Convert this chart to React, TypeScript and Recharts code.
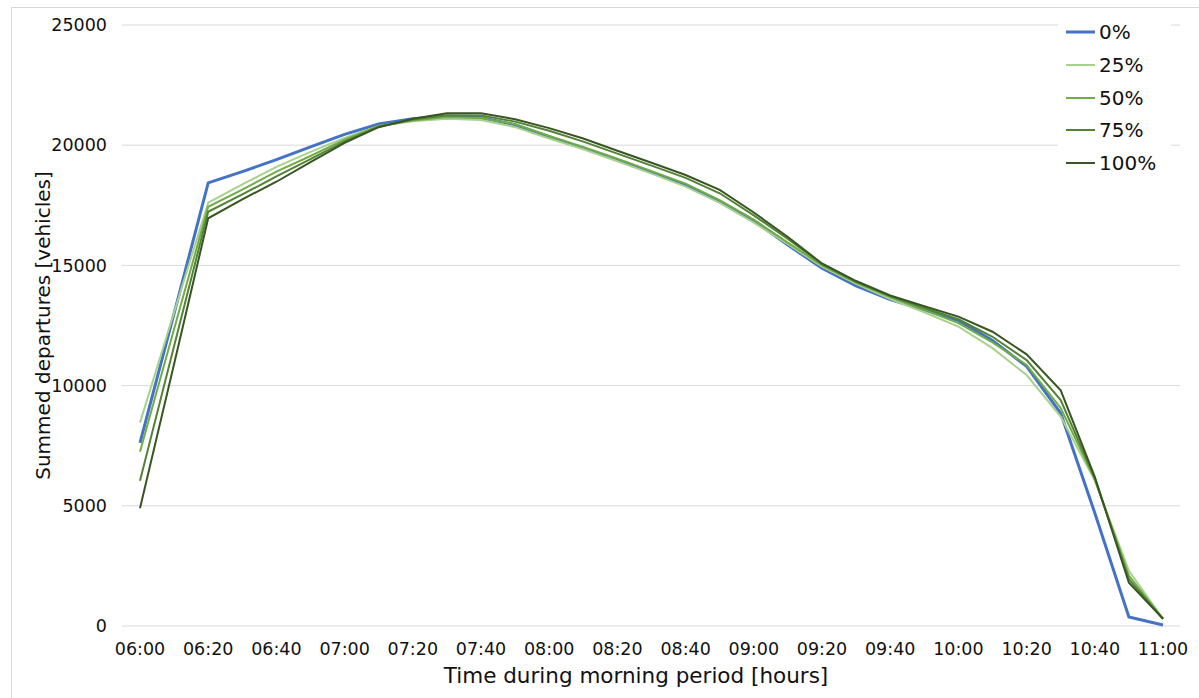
import { CartesianGrid, Label, Line, LineChart, XAxis, YAxis } from "recharts";

// minutes after 06:00, one sample every 10 minutes
const minutes = [
  0, 10, 20, 30, 40, 50, 60, 70, 80, 90, 100, 110, 120, 130, 140, 150,
  160, 170, 180, 190, 200, 210, 220, 230, 240, 250, 260, 270, 280, 290, 300,
];

const share0 = [
  7620, 13000, 18430, 18900, 19400, 19930, 20450, 20880, 21100, 21200, 21150, 20850, 20350, 19880, 19400, 18880,
  18340, 17650, 16850, 15850, 14880, 14150, 13580, 13150, 12700, 11880, 10800, 8850, 4700, 380, 40,
];
const share25 = [
  8460, 13050, 17610, 18370, 19100, 19720, 20300, 20800, 21000, 21100, 21050, 20750, 20280, 19830, 19330, 18820,
  18280, 17600, 16780, 15880, 14950, 14230, 13600, 13050, 12450, 11560, 10440, 8710, 6050, 2300, 300,
];
const share50 = [
  7250, 12350, 17440, 18150, 18900, 19550, 20230, 20800, 21030, 21170, 21130, 20870, 20380, 19930, 19440, 18920,
  18400, 17720, 16900, 15950, 15000, 14280, 13680, 13150, 12600, 11800, 10860, 9070, 6100, 2100, 300,
];
const share75 = [
  6040, 11650, 17230, 17950, 18700, 19420, 20160, 20770, 21070, 21250, 21240, 20980, 20600, 20150, 19650, 19150,
  18640, 18000, 17080, 16100, 15050, 14320, 13720, 13230, 12760, 12030, 11060, 9400, 6150, 1950, 300,
];
const share100 = [
  4900, 10900, 16960, 17750, 18480, 19300, 20100, 20750, 21100, 21330, 21330, 21080, 20710, 20280, 19770, 19270,
  18760, 18140, 17200, 16180, 15080, 14350, 13750, 13300, 12870, 12240, 11300, 9800, 6200, 1800, 300,
];

const xTicks = [0, 20, 40, 60, 80, 100, 120, 140, 160, 180, 200, 220, 240, 260, 280, 300];
const yTicks = [0, 5000, 10000, 15000, 20000, 25000];

const series = [
  { key: "s0", name: "0%", values: share0, color: "#4472c4", width: 3 },
  { key: "s25", name: "25%", values: share25, color: "#a9d18e", width: 2 },
  { key: "s50", name: "50%", values: share50, color: "#70ad47", width: 2 },
  { key: "s75", name: "75%", values: share75, color: "#548235", width: 2 },
  { key: "s100", name: "100%", values: share100, color: "#375623", width: 2 },
];

const rows = minutes.map((m, i) => {
  const row: Record<string, number> = { t: m };
  series.forEach((s) => {
    row[s.key] = s.values[i];
  });
  return row;
});

const clock = (m: number) => {
  const h = 6 + Math.floor(m / 60);
  const mm = m % 60;
  return `${String(h).padStart(2, "0")}:${String(mm).padStart(2, "0")}`;
};

const FONT = "'DejaVu Sans', Verdana, sans-serif";

// legend sits over the top-right of the plot, on a white patch that hides the grid
const LegendBox = () => (
  <div
    style={{
      position: "absolute",
      left: 1058,
      top: 8,
      width: 105,
      background: "#fff",
      padding: "8px 0 6px 8px",
      fontFamily: FONT,
    }}
  >
    {series.map((s) => (
      <div key={s.key} style={{ display: "flex", alignItems: "center", height: 32.7 }}>
        <svg width={30} height={6} style={{ marginRight: 3 }}>
          <line x1={0} y1={3} x2={29} y2={3} stroke={s.color} strokeWidth={s.width} />
        </svg>
        <span style={{ fontSize: 20, color: "#111" }}>{s.name}</span>
      </div>
    ))}
  </div>
);

export default function App() {
  return (
    <div style={{ position: "absolute", left: 0, top: 0, width: 1199, height: 698, overflow: "hidden", background: "#fff" }}>
      <div
        style={{
          position: "absolute",
          left: 11,
          top: 7,
          width: 1200,
          height: 700,
          border: "1px solid #d9d9d9",
        }}
      />
      <LineChart
        width={1199}
        height={698}
        data={rows}
        margin={{ top: 25, right: 19, bottom: 42, left: 0 }}
        style={{ fontFamily: FONT }}
      >
        <CartesianGrid vertical={false} stroke="#d9d9d9" strokeWidth={1} />
        <XAxis
          dataKey="t"
          type="number"
          domain={[0, 300]}
          ticks={xTicks}
          tickFormatter={clock}
          padding={{ left: 18, right: 17 }}
          axisLine={false}
          tickLine={false}
          tickMargin={11}
          tick={{ fontSize: 17.5, fill: "#111" }}
          interval={0}
        >
          <Label
            value="Time during morning period [hours]"
            position="bottom"
            offset={12}
            dx={-15}
            style={{ fontSize: 21.5, fill: "#111" }}
          />
        </XAxis>
        <YAxis
          type="number"
          domain={[0, 25000]}
          ticks={yTicks}
          width={122}
          axisLine={false}
          tickLine={false}
          tickMargin={9}
          tick={{ fontSize: 17.5, fill: "#111" }}
        >
          <Label
            value="Summed departures [vehicles]"
            angle={-90}
            position="insideLeft"
            offset={43}
            style={{ fontSize: 20, fill: "#111", textAnchor: "middle" }}
          />
        </YAxis>
        {series.map((s) => (
          <Line
            key={s.key}
            type="linear"
            dataKey={s.key}
            name={s.name}
            stroke={s.color}
            strokeWidth={s.width}
            dot={false}
            isAnimationActive={false}
          />
        ))}
      </LineChart>
      <LegendBox />
    </div>
  );
}
